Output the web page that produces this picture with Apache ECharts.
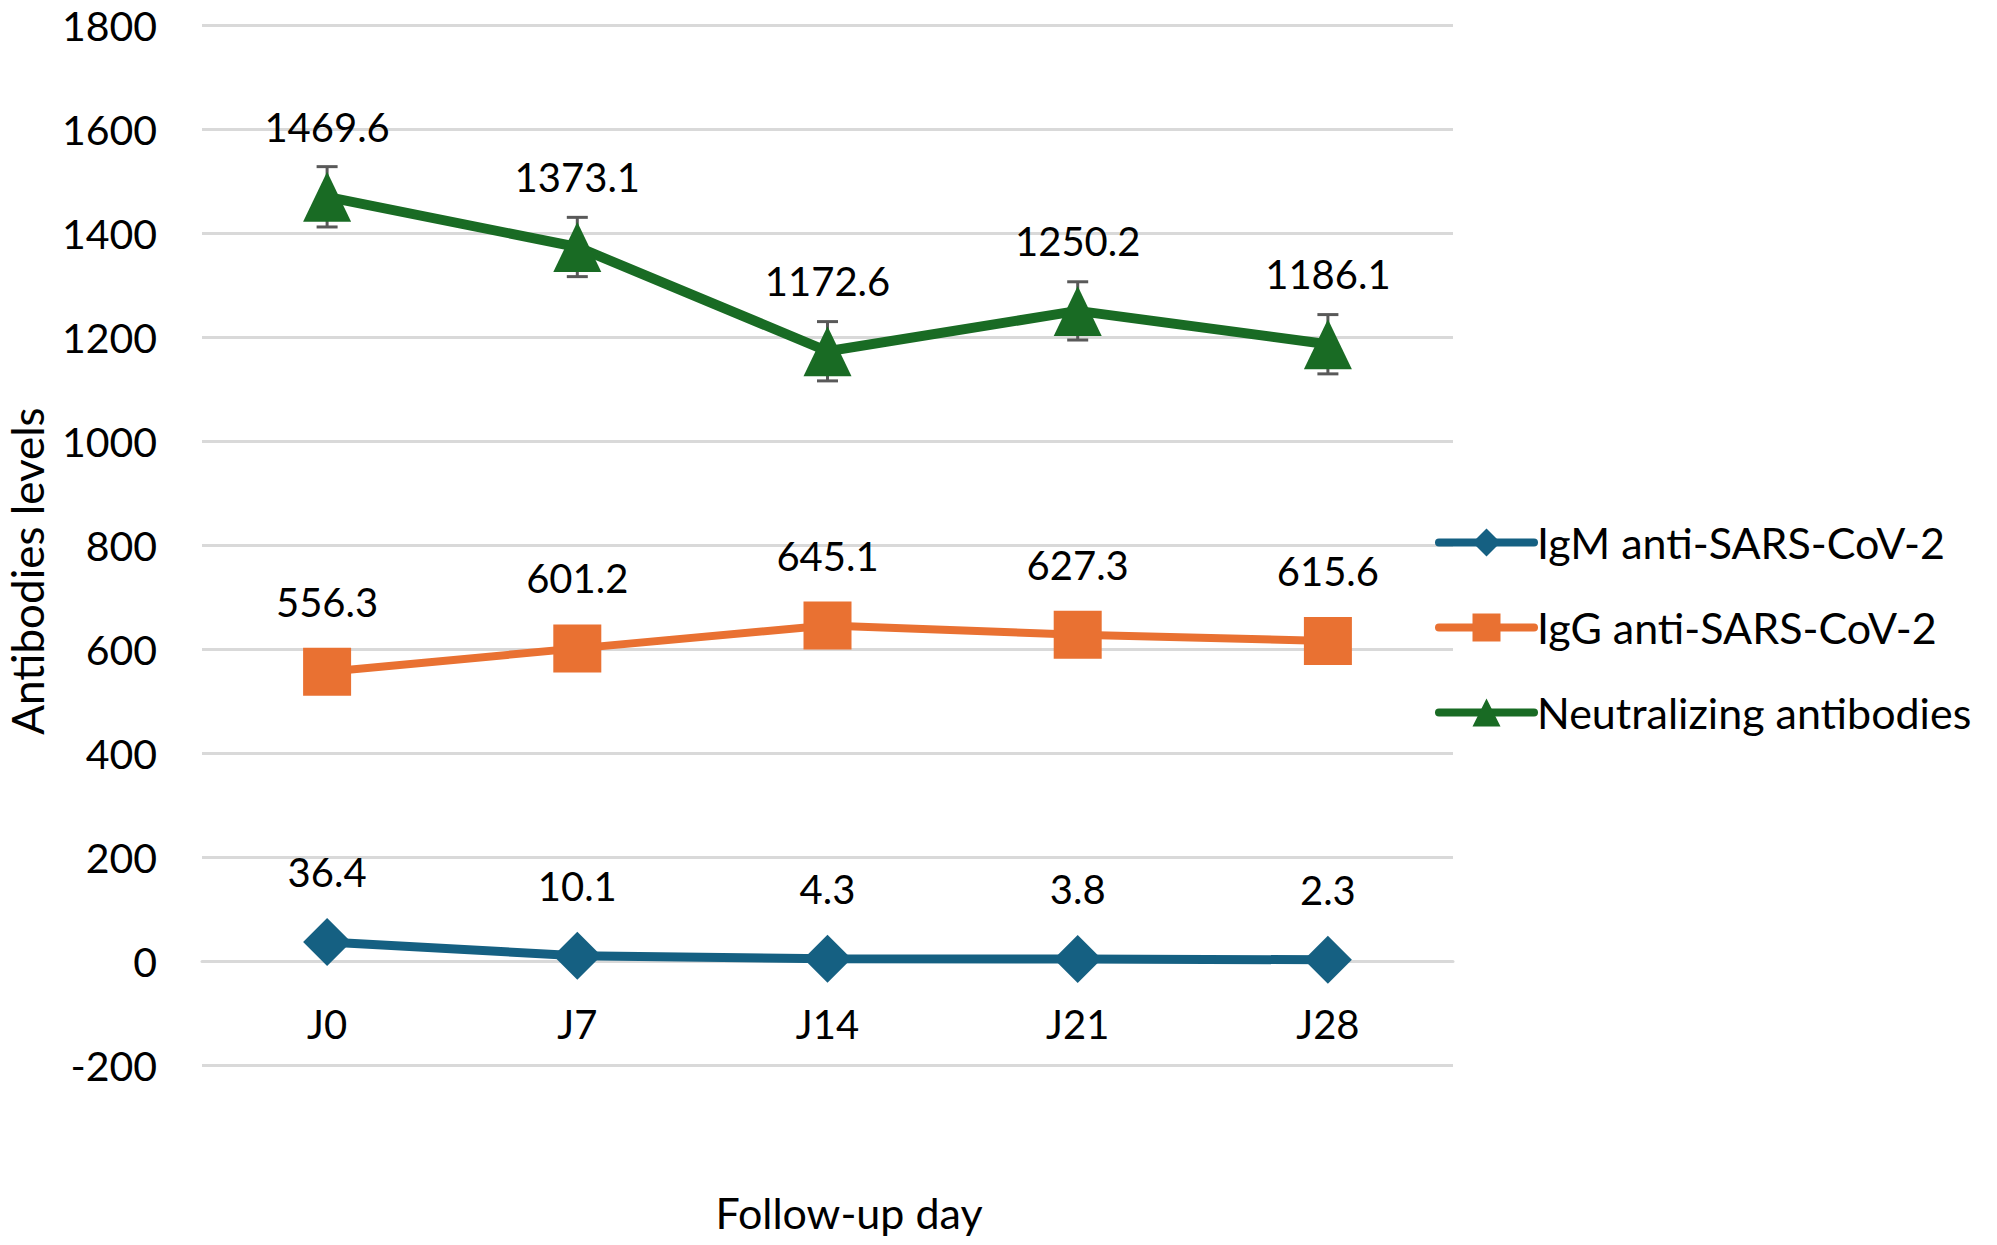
<!DOCTYPE html>
<html>
<head>
<meta charset="utf-8">
<script src="https://cdn.jsdelivr.net/npm/echarts@6/dist/echarts.min.js"></script>
<style>
html,body{margin:0;padding:0;background:#fff;}
#chart{width:1997px;height:1245px;}
</style>
</head>
<body>
<div id="chart"></div>
<script>
var categories = ['J0', 'J7', 'J14', 'J21', 'J28'];
var igmValues = [36.4, 10.1, 4.3, 3.8, 2.3];
var iggValues = [556.3, 601.2, 645.1, 627.3, 615.6];
var neutValues = [1469.6, 1373.1, 1172.6, 1250.2, 1186.1];
var neutErrors = [58, 57, 57, 56, 57];
var yTicks = { min: -200, max: 1800, interval: 200 };

var FONT = 'Lato';
var errData = neutValues.map(function (v, i) { return [i, v - neutErrors[i], v + neutErrors[i]]; });

var chart = echarts.init(document.getElementById('chart'), null, { renderer: 'svg' });

function labelCfg(dist) {
  return {
    show: true, position: 'top', distance: dist,
    color: '#000', fontFamily: FONT, fontSize: 40,
    formatter: function (p) { return p.value.toFixed(1); }
  };
}

chart.setOption({
  animation: false,
  backgroundColor: '#fff',
  grid: { left: 202, right: 544, top: 25, bottom: 180, containLabel: false, outerBoundsMode: 'none' },
  legend: {
    orient: 'vertical',
    left: 1430, top: 516,
    itemWidth: 95, itemHeight: 35, itemGap: 42,
    data: ['IgM anti-SARS-CoV-2', 'IgG anti-SARS-CoV-2', 'Neutralizing antibodies'],
    lineStyle: { width: 8, cap: 'round' },
    textStyle: { color: '#000', fontFamily: FONT, fontSize: 43, padding: [0, 0, 0, -2] }
  },
  xAxis: {
    type: 'category',
    data: categories,
    boundaryGap: true,
    offset: -104,
    axisLine: { show: true, onZero: false, lineStyle: { color: '#d9d9d9', width: 3 } },
    axisTick: { show: false },
    axisLabel: { color: '#000', fontFamily: FONT, fontSize: 40, lineHeight: 40, margin: 43 },
    name: 'Follow-up day',
    nameLocation: 'middle',
    nameGap: 230,
    nameTextStyle: { color: '#000', fontFamily: FONT, fontSize: 43, padding: [0, 0, 0, 43] }
  },
  yAxis: {
    type: 'value',
    min: yTicks.min, max: yTicks.max, interval: yTicks.interval,
    axisLine: { show: false },
    axisTick: { show: false },
    splitLine: { show: true, lineStyle: { color: '#d9d9d9', width: 3 } },
    axisLabel: { color: '#000', fontFamily: FONT, fontSize: 41, margin: 45,
      formatter: function (v) { return String(v); } },
    name: 'Antibodies levels',
    nameLocation: 'middle',
    nameGap: 153,
    nameTextStyle: { color: '#000', fontFamily: FONT, fontSize: 44, padding: [0, 52, 0, 0] }
  },
  series: [
    {
      type: 'custom',
      name: 'errorbars',
      z: 1,
      silent: true,
      data: errData,
      renderItem: function (params, api) {
        var x = api.value(0);
        var lo = api.coord([x, api.value(1)]);
        var hi = api.coord([x, api.value(2)]);
        var half = 10.5;
        var st = { stroke: '#595959', lineWidth: 3 };
        return {
          type: 'group',
          children: [
            { type: 'line', shape: { x1: lo[0], y1: lo[1], x2: hi[0], y2: hi[1] }, style: st },
            { type: 'line', shape: { x1: hi[0] - half, y1: hi[1], x2: hi[0] + half, y2: hi[1] }, style: st },
            { type: 'line', shape: { x1: lo[0] - half, y1: lo[1], x2: lo[0] + half, y2: lo[1] }, style: st }
          ]
        };
      }
    },
    {
      type: 'line',
      name: 'IgM anti-SARS-CoV-2',
      data: igmValues,
      z: 3,
      symbol: 'diamond', symbolSize: 48,
      lineStyle: { color: '#156082', width: 9 },
      itemStyle: { color: '#156082' },
      label: labelCfg(26)
    },
    {
      type: 'line',
      name: 'IgG anti-SARS-CoV-2',
      data: iggValues,
      z: 3,
      symbol: 'rect', symbolSize: 48,
      lineStyle: { color: '#E97132', width: 8 },
      itemStyle: { color: '#E97132' },
      label: labelCfg(26)
    },
    {
      type: 'line',
      name: 'Neutralizing antibodies',
      data: neutValues,
      z: 3,
      symbol: 'triangle', symbolSize: [48, 50],
      lineStyle: { color: '#196B24', width: 10 },
      itemStyle: { color: '#196B24' },
      label: labelCfg(25)
    }
  ]
});
</script>
</body>
</html>
